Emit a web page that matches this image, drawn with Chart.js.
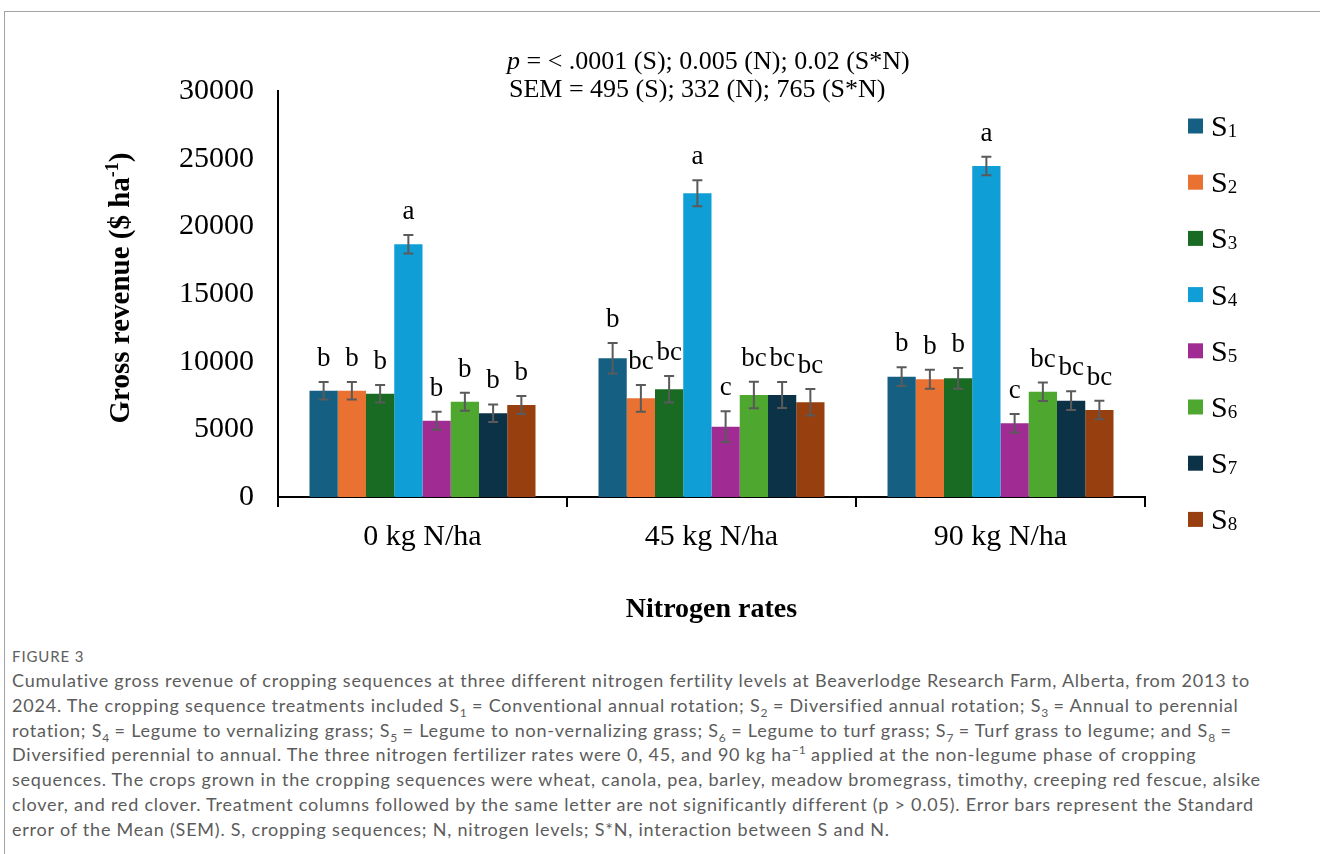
<!DOCTYPE html>
<html>
<head>
<meta charset="utf-8">
<script src="https://cdn.jsdelivr.net/npm/chart.js@4/dist/chart.umd.min.js"></script>
<style>
  html, body { margin: 0; padding: 0; background: #fff; width: 1320px; height: 854px; overflow: hidden; }
  #frame { position: absolute; left: 4px; top: 11px; width: 1340px; height: 900px; border: 1px solid #a3a3a3; box-sizing: border-box; }
  #plot { position: absolute; left: 0; top: 0; }
  #caption { position: absolute; left: 12px; top: 646px; font-family: Lato, "Open Sans", sans-serif; color: #5c5c5c; }
  #caption .fig { font-size: 15px; line-height: 20px; letter-spacing: 0.9px; color: #606060; }
  #caption .body { font-size: 18px; line-height: 24.8px; letter-spacing: 0.78px; white-space: nowrap; margin-top: 2px; }
  #caption sub, #caption sup { font-size: 12px; line-height: 0; letter-spacing: 0; }
</style>
</head>
<body>
<div id="frame"></div>
<canvas id="plot" width="1320" height="640"></canvas>
<div id="caption">
  <div class="fig">FIGURE 3</div>
  <div class="body">
    Cumulative gross revenue of cropping sequences at three different nitrogen fertility levels at Beaverlodge Research Farm, Alberta, from 2013 to<br>
    2024. The cropping sequence treatments included S<sub>1</sub> = Conventional annual rotation; S<sub>2</sub> = Diversified annual rotation; S<sub>3</sub> = Annual to perennial<br>
    rotation; S<sub>4</sub> = Legume to vernalizing grass; S<sub>5</sub> = Legume to non-vernalizing grass; S<sub>6</sub> = Legume to turf grass; S<sub>7</sub> = Turf grass to legume; and S<sub>8</sub> =<br>
    Diversified perennial to annual. The three nitrogen fertilizer rates were 0, 45, and 90 kg ha<sup>−1</sup> applied at the non-legume phase of cropping<br>
    sequences. The crops grown in the cropping sequences were wheat, canola, pea, barley, meadow bromegrass, timothy, creeping red fescue, alsike<br>
    clover, and red clover. Treatment columns followed by the same letter are not significantly different (p &gt; 0.05). Error bars represent the Standard<br>
    error of the Mean (SEM). S, cropping sequences; N, nitrogen levels; S*N, interaction between S and N.
  </div>
</div>
<script>
// Nitrogen rate groups on the x axis
const categories = ['0 kg N/ha', '45 kg N/ha', '90 kg N/ha'];
const seriesNames = ['S1', 'S2', 'S3', 'S4', 'S5', 'S6', 'S7', 'S8'];
const seriesColors = ['#156082', '#E97132', '#196B24', '#0F9ED5', '#A02B93', '#4EA72E', '#0B3246', '#973F0E'];

// Gross revenue means ($ ha-1) per cropping sequence
const s1 = [7850, 10250, 8890];
const s2 = [7850, 7290, 8700];
const s3 = [7630, 7960, 8770];
const s4 = [18680, 22450, 24460];
const s5 = [5640, 5200, 5450];
const s6 = [7040, 7540, 7780];
const s7 = [6190, 7540, 7120];
const s8 = [6800, 7000, 6430];

// Standard errors
const s1Err = [650, 1130, 690];
const s2Err = [650, 985, 700];
const s3Err = [640, 985, 770];
const s4Err = [680, 960, 680];
const s5Err = [665, 1130, 690];
const s6Err = [665, 985, 680];
const s7Err = [650, 960, 690];
const s8Err = [665, 985, 680];

// Mean separation letters
const s1Letters = ['b', 'b', 'b'];
const s2Letters = ['b', 'bc', 'b'];
const s3Letters = ['b', 'bc', 'b'];
const s4Letters = ['a', 'a', 'a'];
const s5Letters = ['b', 'c', 'c'];
const s6Letters = ['b', 'bc', 'bc'];
const s7Letters = ['b', 'bc', 'bc'];
const s8Letters = ['b', 'bc', 'bc'];

// Y axis ticks
const yTicks = [0, 5000, 10000, 15000, 20000, 25000, 30000];

const allValues = [s1, s2, s3, s4, s5, s6, s7, s8];
const allErrors = [s1Err, s2Err, s3Err, s4Err, s5Err, s6Err, s7Err, s8Err];
const allLetters = [s1Letters, s2Letters, s3Letters, s4Letters, s5Letters, s6Letters, s7Letters, s8Letters];

const SERIF = '"Liberation Serif", "Times New Roman", serif';
Chart.defaults.font.family = SERIF;
Chart.defaults.color = '#000';

const datasets = seriesNames.map((name, i) => ({
  label: name,
  data: allValues[i],
  errors: allErrors[i],
  letters: allLetters[i],
  backgroundColor: seriesColors[i],
  borderWidth: 0,
  categoryPercentage: 0.782,
  barPercentage: 1.0
}));

// Error bars, significance letters, legend, rotated y title and statistics header
const decorations = {
  id: 'decorations',
  afterDatasetsDraw(chart) {
    const { ctx } = chart;
    const y = chart.scales.y;

    chart.data.datasets.forEach((ds, di) => {
      const meta = chart.getDatasetMeta(di);
      meta.data.forEach((bar, i) => {
        const v = ds.data[i], e = ds.errors[i];
        const yHi = y.getPixelForValue(v + e);
        const yLo = y.getPixelForValue(v - e);
        ctx.save();
        ctx.strokeStyle = '#5a5a5a';
        ctx.lineWidth = 2;
        ctx.beginPath();
        ctx.moveTo(bar.x, yHi); ctx.lineTo(bar.x, yLo);
        ctx.moveTo(bar.x - 5, yHi); ctx.lineTo(bar.x + 5, yHi);
        ctx.moveTo(bar.x - 5, yLo); ctx.lineTo(bar.x + 5, yLo);
        ctx.stroke();
        ctx.fillStyle = '#000';
        ctx.font = '27px ' + SERIF;
        ctx.textAlign = 'center';
        ctx.textBaseline = 'alphabetic';
        ctx.fillText(ds.letters[i], bar.x, yHi - 16);
        ctx.restore();
      });
    });

    // legend with subscripted series numbers
    ctx.save();
    chart.data.datasets.forEach((ds, i) => {
      const cy = 126 + i * 56.2;
      ctx.fillStyle = ds.backgroundColor;
      ctx.fillRect(1188, cy - 7.5, 15, 15);
      ctx.fillStyle = '#000';
      ctx.textAlign = 'left';
      ctx.textBaseline = 'alphabetic';
      ctx.font = '30px ' + SERIF;
      const main = ds.label.charAt(0);
      ctx.fillText(main, 1211, cy + 10);
      const w = ctx.measureText(main).width;
      ctx.font = '19px ' + SERIF;
      ctx.fillText(ds.label.slice(1), 1211 + w, cy + 11);
    });
    ctx.restore();

    // y axis title with superscript
    ctx.save();
    ctx.translate(119, 288);
    ctx.rotate(-Math.PI / 2);
    ctx.fillStyle = '#000';
    ctx.textBaseline = 'alphabetic';
    ctx.textAlign = 'left';
    const bigFont = 'bold 29px ' + SERIF, supFont = 'bold 18px ' + SERIF;
    const partA = 'Gross revenue ($ ha', sup = '-1', partB = ')';
    ctx.font = bigFont; const wA = ctx.measureText(partA).width, wB = ctx.measureText(partB).width;
    ctx.font = supFont; const wS = ctx.measureText(sup).width;
    const x0 = -(wA + wS + wB) / 2;
    const base = 10;
    ctx.font = bigFont; ctx.fillText(partA, x0, base);
    ctx.font = supFont; ctx.fillText(sup, x0 + wA, base - 11);
    ctx.font = bigFont; ctx.fillText(partB, x0 + wA + wS, base);
    ctx.restore();

    // statistics header
    ctx.save();
    ctx.fillStyle = '#000';
    ctx.textAlign = 'left';
    ctx.textBaseline = 'alphabetic';
    ctx.font = 'italic 26px ' + SERIF;
    ctx.fillText('p', 507, 69);
    const wp = ctx.measureText('p').width;
    ctx.font = '26px ' + SERIF;
    ctx.fillText(' = < .0001 (S); 0.005 (N); 0.02 (S*N)', 507 + wp, 69);
    ctx.fillText('SEM = 495 (S); 332 (N); 765 (S*N)', 509, 97);
    ctx.restore();
  }
};

new Chart(document.getElementById('plot'), {
  type: 'bar',
  data: { labels: categories, datasets },
  options: {
    responsive: false,
    animation: false,
    devicePixelRatio: 1,
    layout: { padding: { left: 128, right: 175, top: 91, bottom: 13 } },
    plugins: { legend: { display: false }, tooltip: { enabled: false } },
    scales: {
      x: {
        grid: { display: true, drawOnChartArea: false, drawTicks: true, tickLength: 10, color: '#000', lineWidth: 2, offset: true },
        border: { display: true, color: '#000', width: 2 },
        ticks: { font: { size: 30 }, color: '#000', padding: 12 },
        title: { display: true, text: 'Nitrogen rates', font: { size: 28, weight: 'bold' }, color: '#000', padding: 0 },
        afterFit(scale) { scale.height = 130; }
      },
      y: {
        min: 0,
        max: 30000,
        afterBuildTicks(scale) { scale.ticks = yTicks.map(v => ({ value: v })); },
        grid: { display: false, drawTicks: false },
        border: { display: true, color: '#000', width: 2 },
        ticks: { font: { size: 30 }, color: '#000', padding: 24, callback: (v) => String(v) },
        afterFit(scale) { scale.width = 150; }
      }
    }
  },
  plugins: [decorations]
});
</script>
</body>
</html>
